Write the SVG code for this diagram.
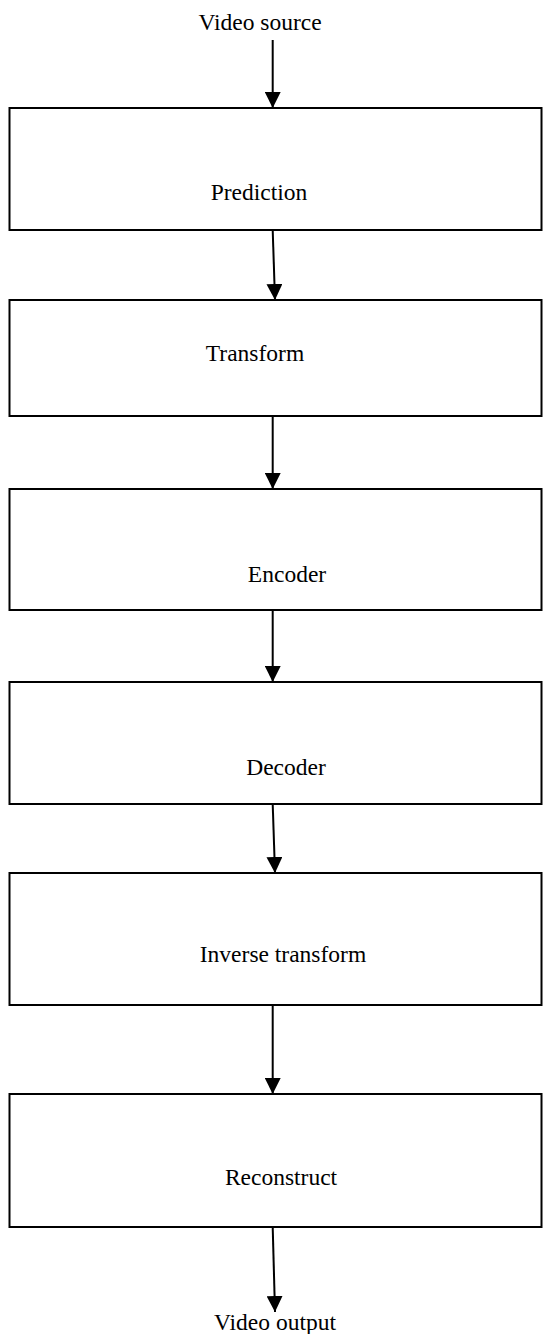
<svg xmlns="http://www.w3.org/2000/svg" width="552" height="1334" viewBox="0 0 552 1334">
<style>
.box{fill:#fff;stroke:#000;stroke-width:2}
.lbl{font-family:'Liberation Serif','Times New Roman','DejaVu Serif',serif;font-size:23.5px;fill:#000}
.ln{stroke:#000;stroke-width:2;fill:none}
</style>
<defs>
<marker id="ah" markerWidth="16" markerHeight="16" viewBox="0 0 16 16" refX="16" refY="8" orient="auto" markerUnits="userSpaceOnUse">
<path d="M0,0 L16,8 L0,16 Z" fill="#000"/>
</marker>
</defs>
<rect width="552" height="1334" fill="#fff"/>
<text class="lbl" x="260" y="30" text-anchor="middle">Video source</text>
<g id="n1"><rect class="box" x="9.5" y="108" width="532" height="122"/><text class="lbl" x="259" y="200" text-anchor="middle">Prediction</text></g>
<g id="n2"><rect class="box" x="9.5" y="300" width="532" height="116"/><text class="lbl" x="255" y="361" text-anchor="middle">Transform</text></g>
<g id="n3"><rect class="box" x="9.5" y="489" width="532" height="121"/><text class="lbl" x="287" y="582" text-anchor="middle">Encoder</text></g>
<g id="n4"><rect class="box" x="9.5" y="682" width="532" height="122"/><text class="lbl" x="286" y="775" text-anchor="middle">Decoder</text></g>
<g id="n5"><rect class="box" x="9.5" y="873" width="532" height="132"/><text class="lbl" x="283" y="962" text-anchor="middle">Inverse transform</text></g>
<g id="n6"><rect class="box" x="9.5" y="1094" width="532" height="133"/><text class="lbl" x="281" y="1185" text-anchor="middle">Reconstruct</text></g>
<text class="lbl" x="275" y="1330" text-anchor="middle">Video output</text>
<g id="connectors">
<line class="ln" x1="272.7" y1="40" x2="272.7" y2="108" marker-end="url(#ah)"/>
<line class="ln" x1="272.7" y1="230" x2="275" y2="300" marker-end="url(#ah)"/>
<line class="ln" x1="272.7" y1="416" x2="272.7" y2="489" marker-end="url(#ah)"/>
<line class="ln" x1="272.7" y1="610" x2="272.7" y2="682" marker-end="url(#ah)"/>
<line class="ln" x1="272.7" y1="804" x2="275" y2="873" marker-end="url(#ah)"/>
<line class="ln" x1="272.7" y1="1005" x2="272.7" y2="1094" marker-end="url(#ah)"/>
<line class="ln" x1="272.7" y1="1227" x2="275" y2="1312" marker-end="url(#ah)"/>
</g>
</svg>
